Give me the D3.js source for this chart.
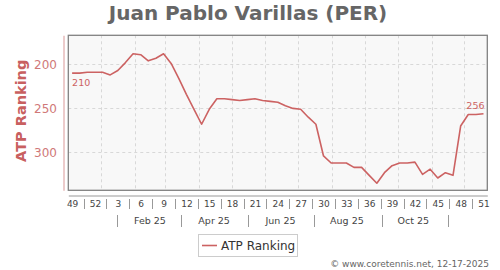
<!DOCTYPE html>
<html>
<head>
<meta charset="utf-8">
<script src="https://cdn.jsdelivr.net/npm/d3@7"></script>
<style>
  html, body { margin: 0; padding: 0; background: #fff; }
  svg { display: block; font-family: "DejaVu Sans", sans-serif; }
</style>
</head>
<body>
<svg id="chart" width="500" height="270"></svg>
<script>
// ---- data ----
const title = "Juan Pablo Varillas (PER)";
const seriesName = "ATP Ranking";
// weekly ATP ranking, ISO week 49 of 2024 through week 51 of 2025
const ranks = [
  210, 210, 209, 209, 209, 212, 207, 198, 188, 189,
  196, 193, 188, 199, 216, 234, 251, 268, 251, 239,
  239, 240, 241, 240, 239, 241, 242, 243, 247, 250,
  251, 260, 268, 304, 312, 312, 312, 317, 317, 326,
  335, 323, 315, 312, 312, 311, 325, 319, 329, 323,
  326, 270, 257, 257, 256
];
const weekLabels = ["49","52","3","6","9","12","15","18","21","24","27","30","33","36","39","42","45","48","51"];
const monthLabels = ["Feb 25","Apr 25","Jun 25","Aug 25","Oct 25"];
const yTicks = [200, 250, 300];
const firstLabel = "210";
const lastLabel = "256";
const credit = "\u00A9 www.coretennis.net, 12-17-2025";

// ---- layout ----
const svg = d3.select("#chart");
const pL = 68.3, pR = 487.3, pT = 35.3, pB = 190.3;
const DAY = 86400000;
const startMs = Date.UTC(2024, 11, 2);          // Monday of week 49, 2024
const endMs = Date.UTC(2025, 11, 22);           // Monday of week 52, 2025
const x = d3.scaleUtc().domain([new Date(startMs), new Date(endMs)]).range([pL, pR]);
const y = d3.scaleLinear().domain([167, 343]).range([pT, pB]);

const weekDate = i => new Date(startMs + i * 7 * DAY + 3.5 * DAY);
const data = ranks.map((r, i) => ({ date: weekDate(i), rank: r }));
const lineColor = "#cc6262";

// plot background
svg.append("rect").attr("x", pL).attr("y", pT)
  .attr("width", pR - pL).attr("height", pB - pT)
  .attr("fill", "#f8f8f8");

// grid
const grid = svg.append("g").attr("stroke", "#d8d8d8").attr("stroke-dasharray", "3,3").attr("stroke-width", 1);
grid.selectAll("line.h").data(yTicks).join("line")
  .attr("x1", pL).attr("x2", pR)
  .attr("y1", d => Math.round(y(d)) + 0.5).attr("y2", d => Math.round(y(d)) + 0.5);
const months = d3.utcMonth.range(new Date(Date.UTC(2025, 0, 1)), new Date(endMs));
grid.selectAll("line.v").data(months).join("line")
  .attr("x1", d => Math.round(x(d)) + 0.5).attr("x2", d => Math.round(x(d)) + 0.5)
  .attr("y1", pT).attr("y2", pB);

// line
svg.append("path").datum(data)
  .attr("fill", "none").attr("stroke", lineColor).attr("stroke-width", 1.6)
  .attr("stroke-linejoin", "round")
  .attr("d", d3.line().x(d => x(d.date)).y(d => y(d.rank)));

// border
svg.append("rect").attr("x", pL).attr("y", pT)
  .attr("width", pR - pL).attr("height", pB - pT)
  .attr("fill", "none").attr("stroke", "#808080").attr("stroke-width", 1.3);

// end labels
const f = data[0], l = data[data.length - 1];
svg.append("text").attr("x", x(f.date)).attr("y", y(f.rank) + 12.5)
  .attr("font-size", 9.5).attr("fill", lineColor).text(firstLabel);
svg.append("text").attr("x", x(l.date) + 1).attr("y", y(l.rank) - 4.5)
  .attr("text-anchor", "end").attr("font-size", 9.5).attr("fill", lineColor).text(lastLabel);

// y axis
const yAxis = svg.append("g").attr("transform", "translate(63.5,0)")
  .call(d3.axisLeft(y).tickValues(yTicks).tickSize(0).tickPadding(6.5).tickFormat(d3.format("d")));
yAxis.select(".domain").attr("stroke", "#e0a8a8").attr("stroke-width", 1.2);
yAxis.selectAll("text").attr("font-size", 12).attr("fill", "#d07878").attr("font-family", "DejaVu Sans");

svg.append("text")
  .attr("transform", "translate(25.5," + ((pT + pB) / 2 - 2) + ") rotate(-90)")
  .attr("text-anchor", "middle").attr("font-size", 14.5).attr("font-weight", "bold").attr("fill", "#c86060")
  .text(seriesName);

// x axis: weeks
const labelIdx = weekLabels.map((d, k) => k * 3);
const xAxis = svg.append("g").attr("transform", "translate(0,195.5)")
  .call(d3.axisBottom(x).tickValues(labelIdx.map(weekDate)).tickSize(0).tickSizeOuter(0).tickPadding(5.5)
    .tickFormat((d, k) => weekLabels[k]));
xAxis.select(".domain").attr("stroke", "#999").attr("stroke-width", 1);
xAxis.selectAll("text").attr("font-size", 9).attr("fill", "#444").attr("font-family", "DejaVu Sans");

const sep = svg.append("g").attr("stroke", "#999").attr("stroke-width", 1);
sep.selectAll("line").data(labelIdx.slice(1)).join("line")
  .attr("x1", d => Math.round(x(weekDate(d - 1.5))) + 0.5)
  .attr("x2", d => Math.round(x(weekDate(d - 1.5))) + 0.5)
  .attr("y1", 199).attr("y2", 209);

// x axis: months
const monthCenters = [1, 3, 5, 7, 9].map(m => new Date(Date.UTC(2025, m, 15)));
const monthSeps = [0, 2, 4, 6, 8, 10].map(m => new Date(Date.UTC(2025, m, 16)));
svg.append("g").selectAll("text").data(monthCenters).join("text")
  .attr("x", d => x(d)).attr("y", 224).attr("text-anchor", "middle")
  .attr("font-size", 9.5).attr("fill", "#444").text((d, k) => monthLabels[k]);
const sep2 = svg.append("g").attr("stroke", "#999").attr("stroke-width", 1);
sep2.selectAll("line").data(monthSeps).join("line")
  .attr("x1", d => Math.round(x(d)) + 0.5).attr("x2", d => Math.round(x(d)) + 0.5)
  .attr("y1", 215).attr("y2", 227);

// title
svg.append("text").attr("x", 248).attr("y", 20).attr("text-anchor", "middle")
  .attr("font-size", 20).attr("font-weight", "bold").attr("fill", "#666").text(title);

// legend
const lg = svg.append("g");
lg.append("rect").attr("x", 198.5).attr("y", 234.5).attr("width", 99).attr("height", 22)
  .attr("fill", "#fff").attr("stroke", "#ccc");
lg.append("line").attr("x1", 202).attr("x2", 217).attr("y1", 245.5).attr("y2", 245.5)
  .attr("stroke", lineColor).attr("stroke-width", 1.6);
lg.append("text").attr("x", 221).attr("y", 250).attr("font-size", 12).attr("fill", "#333").text(seriesName);

// credit
svg.append("text").attr("x", 489).attr("y", 267).attr("text-anchor", "end")
  .attr("font-size", 9).attr("fill", "#666").text(credit);
</script>
</body>
</html>
